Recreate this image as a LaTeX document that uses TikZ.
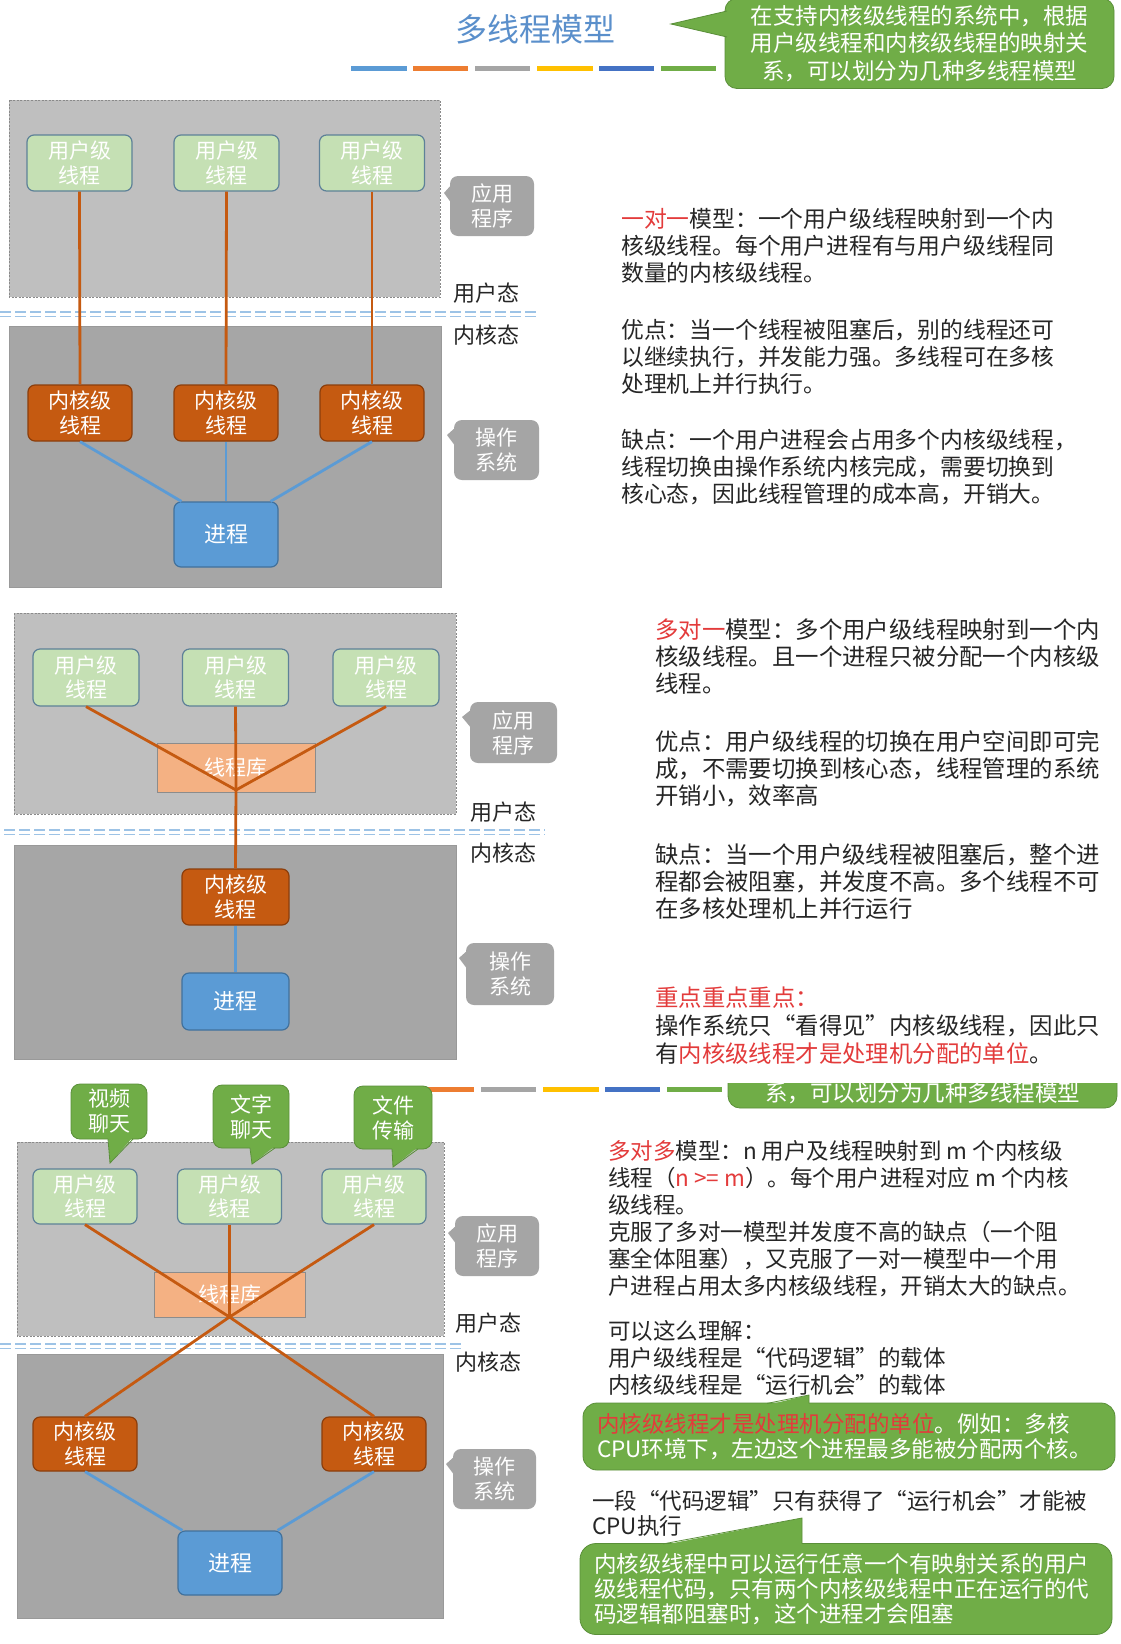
\documentclass[tikz,border=0pt]{standalone}
\usepackage{fontspec}
\setmainfont{Noto Sans CJK SC}
\usetikzlibrary{calc}
\definecolor{ugray}{HTML}{BFBFBF}
\definecolor{kgray}{HTML}{A6A6A6}
\definecolor{rgedge}{HTML}{8A8A8A}
\definecolor{kgedge}{HTML}{999999}
\definecolor{cgray}{HTML}{A5A5A5}
\definecolor{ufill}{HTML}{C5E0B4}
\definecolor{uedge}{HTML}{5E8198}
\definecolor{korange}{HTML}{C55A11}
\definecolor{kedge}{HTML}{8B3E0C}
\definecolor{pblue}{HTML}{5B9BD5}
\definecolor{pedge}{HTML}{41719C}
\definecolor{libfill}{HTML}{F4B183}
\definecolor{libedge}{HTML}{8C8C8C}
\definecolor{gfill}{HTML}{70AD47}
\definecolor{gedge}{HTML}{5A8F39}
\definecolor{sepblue}{HTML}{9DC3E6}
\definecolor{titleblue}{HTML}{5A8FCB}
\definecolor{redtxt}{HTML}{E33B3B}
\definecolor{bodytxt}{HTML}{262626}
\definecolor{barA}{HTML}{5B9BD5}
\definecolor{barB}{HTML}{ED7D31}
\definecolor{barC}{HTML}{A5A5A5}
\definecolor{barD}{HTML}{FFC000}
\definecolor{barE}{HTML}{4472C4}
\definecolor{barF}{HTML}{70AD47}
\newcommand\fa{\fontsize{22.8}{27}\selectfont}
\newcommand\fb{\fontsize{23.4}{27}\selectfont}
\newcommand\fbb{\fontsize{23.4}{27.7}\selectfont}
\newcommand\fc{\fontsize{22.5}{27}\selectfont}
\newcommand\fd{\fontsize{22.5}{25}\selectfont}
\newcommand\rt[1]{{\color{redtxt}#1}}
\begin{document}
\begin{tikzpicture}[x=1pt,y=-1pt,
  uregion/.style={fill=ugray,draw=rgedge,dash pattern=on 2pt off 1.5pt,line width=0.8pt},
  kregion/.style={fill=kgray,draw=kgedge,line width=0.8pt},
  thr/.style={rounded corners=7pt,line width=1.2pt,text=white,align=center,inner sep=0pt,font=\fontsize{21}{24.5}\selectfont},
  uthr/.style={thr,fill=ufill,draw=uedge},
  kthr/.style={thr,fill=korange,draw=kedge},
  proc/.style={thr,fill=pblue,draw=pedge,font=\fontsize{22}{26}\selectfont},
  lib/.style={fill=libfill,draw=libedge,line width=0.8pt,text=white,inner sep=0pt,font=\fontsize{21}{25}\selectfont},
  oline/.style={draw=korange,line width=2.8pt},
  bline/.style={draw=pblue,line width=2.8pt},
  sepl/.style={draw=sepblue,line width=1.8pt,dash pattern=on 11pt off 4pt},
  modelabel/.style={text=bodytxt,inner sep=0pt,font=\fontsize{22}{26}\selectfont},
  gcall/.style={fill=cgray,rounded corners=8pt,text=white,align=center,inner sep=0pt,font=\fontsize{21}{25}\selectfont},
  grcall/.style={fill=gfill,draw=gedge,line width=0.8pt,rounded corners=9pt,text=white,align=center,inner sep=0pt,font=\fontsize{21}{25}\selectfont},
  para/.style={anchor=north west,inner sep=0pt,align=left,text=bodytxt},
]
\useasboundingbox (0,0) rectangle (1120,1644);
\fill[white] (0,0) rectangle (1120,1644);

% ---------------- title area ----------------
\node[text=titleblue,inner sep=0pt,font=\fontsize{32}{36}\selectfont] (title) at (535,29) {多线程模型};
\fill[barA] (351,66) rectangle (407,71);
\fill[barB] (413,66) rectangle (468,71);
\fill[barC] (475,66) rectangle (530,71);
\fill[barD] (537,66) rectangle (593,71);
\fill[barE] (599,66) rectangle (654,71);
\fill[barF] (661,66) rectangle (716,71);
\node[grcall,rounded corners=12pt,minimum width=389pt,minimum height=90pt,font=\fontsize{22.5}{27.5}\selectfont] (tcall) at (919.5,43.5) {在支持内核级线程的系统中，根据\\用户级线程和内核级线程的映射关\\系，可以划分为几种多线程模型};
\fill[gfill] (671,24) -- (727,11) -- (727,37) -- cycle;
\draw[gedge,line width=0.8pt] (727,11) -- (671,24) -- (727,37);

% ---------------- panel 1 ----------------
\draw[uregion] (9,100) rectangle (440,297);
\draw[kregion] (9,326) rectangle (441,587);
\draw[sepl] (0,312) -- (537,312);
\draw[sepl] (0,316.5) -- (537,316.5);
\node[uthr,minimum width=105pt,minimum height=56pt] (au1) at (79.5,163) {用户级\\线程};
\node[uthr,minimum width=105pt,minimum height=56pt] (au2) at (226.5,163) {用户级\\线程};
\node[uthr,minimum width=105pt,minimum height=56pt] (au3) at (372,163) {用户级\\线程};
\node[kthr,minimum width=104pt,minimum height=56pt] (ak1) at (80,413) {内核级\\线程};
\node[kthr,minimum width=104pt,minimum height=56pt] (ak2) at (226,413) {内核级\\线程};
\node[kthr,minimum width=104pt,minimum height=56pt] (ak3) at (372,413) {内核级\\线程};
\node[proc,minimum width=104pt,minimum height=65pt] (ap) at (226,534.5) {进程};
\draw[oline] (au1.south) -- (ak1.north);
\draw[oline] (au2.south) -- (ak2.north);
\draw[oline] (au3.south) -- (ak3.north);
\draw[bline] (ak1.south) -- ([xshift=8pt]ap.north west);
\draw[bline] (ak2.south) -- (ap.north);
\draw[bline] (ak3.south) -- ([xshift=-8pt]ap.north east);
\node[modelabel] (aus) at (486,293) {用户态};
\node[modelabel] (aks) at (486,335) {内核态};
\node[gcall,minimum width=84pt,minimum height=60pt] (aapp) at (492,206) {应用\\程序};
\fill[cgray] (444,193) -- (452,184) -- (452,204) -- cycle;
\node[gcall,minimum width=85pt,minimum height=60pt] (aos) at (496.5,450) {操作\\系统};
\fill[cgray] (447,435) -- (456,427) -- (456,447) -- cycle;

\node[para,font=\fa] (t11) at (621,208.2) {\rt{一对一}模型：一个用户级线程映射到一个内\\核级线程。每个用户进程有与用户级线程同\\数量的内核级线程。};
\node[para,font=\fa] (t12) at (621,318.7) {优点：当一个线程被阻塞后，别的线程还可\\以继续执行，并发能力强。多线程可在多核\\处理机上并行执行。};
\node[para,font=\fa] (t13) at (621,428.7) {缺点：一个用户进程会占用多个内核级线程，\\线程切换由操作系统内核完成，需要切换到\\核心态，因此线程管理的成本高，开销大。};

% ---------------- panel 2 ----------------
\draw[uregion] (14,613) rectangle (456,814);
\draw[kregion] (14,845) rectangle (456,1059);
\draw[sepl] (4,830) -- (545,830);
\draw[sepl] (4,834.5) -- (545,834.5);
\node[uthr,minimum width=106pt,minimum height=57pt] (bu1) at (86,677.5) {用户级\\线程};
\node[uthr,minimum width=106pt,minimum height=57pt] (bu2) at (235.5,677.5) {用户级\\线程};
\node[uthr,minimum width=106pt,minimum height=57pt] (bu3) at (386,677.5) {用户级\\线程};
\node[lib,minimum width=158pt,minimum height=49pt] (blib) at (236,767.5) {线程库};
\node[kthr,minimum width=107pt,minimum height=56pt] (bk) at (235.5,897) {内核级\\线程};
\node[proc,minimum width=107pt,minimum height=57pt] (bp) at (235.5,1001.5) {进程};
\coordinate (bj) at (236,790);
\draw[oline] (bu1.south) -- (bj);
\draw[oline] (bu2.south) -- (bj);
\draw[oline] (bu3.south) -- (bj);
\draw[oline] (bj) -- (bk.north);
\draw[bline] (bk.south) -- (bp.north);
\node[modelabel] (bus) at (503,812) {用户态};
\node[modelabel] (bks) at (503,853) {内核态};
\node[gcall,minimum width=87pt,minimum height=61pt] (bapp) at (513.5,732.5) {应用\\程序};
\fill[cgray] (462,717) -- (472,709) -- (472,729) -- cycle;
\node[gcall,minimum width=88pt,minimum height=62pt] (bos) at (510,974) {操作\\系统};
\fill[cgray] (459,958) -- (468,950) -- (468,970) -- cycle;

\node[para,font=\fb] (t21) at (655,618.5) {\rt{多对一}模型：多个用户级线程映射到一个内\\核级线程。且一个进程只被分配一个内核级\\线程。};
\node[para,font=\fb] (t22) at (655,730) {优点：用户级线程的切换在用户空间即可完\\成，不需要切换到核心态，线程管理的系统\\开销小，效率高};
\node[para,font=\fb] (t23) at (655,843) {缺点：当一个用户级线程被阻塞后，整个进\\程都会被阻塞，并发度不高。多个线程不可\\在多核处理机上并行运行};
\node[para,font=\fbb] (t24) at (655,987) {\rt{重点重点重点：}\\操作系统只“看得见”内核级线程，因此只\\有\rt{内核级线程才是处理机分配的单位}。};

% ---------------- panel 3 ----------------
\begin{scope}
\clip (0,1083) rectangle (1120,1200);
\fill[barA] (357,1087) rectangle (413,1092);
\fill[barB] (419,1087) rectangle (474,1092);
\fill[barC] (481,1087) rectangle (536,1092);
\fill[barD] (543,1087) rectangle (599,1092);
\fill[barE] (605,1087) rectangle (660,1092);
\fill[barF] (667,1087) rectangle (722,1092);
\filldraw[fill=gfill,draw=gedge,line width=0.8pt,rounded corners=12pt] (728,1018) rectangle (1117,1108);
\node[text=white,inner sep=0pt,font=\fontsize{22.5}{27.5}\selectfont] (tcallb) at (922.5,1093) {系，可以划分为几种多线程模型};
\end{scope}

\draw[uregion] (17,1142) rectangle (444,1336);
\draw[kregion] (17,1354) rectangle (443,1618);
\draw[sepl] (0,1344) -- (464,1344);
\draw[sepl] (0,1348.5) -- (464,1348.5);
\node[uthr,minimum width=104pt,minimum height=55pt] (cu1) at (85,1196.5) {用户级\\线程};
\node[uthr,minimum width=104pt,minimum height=55pt] (cu2) at (229.5,1196.5) {用户级\\线程};
\node[uthr,minimum width=104pt,minimum height=55pt] (cu3) at (374,1196.5) {用户级\\线程};
\node[lib,minimum width=151pt,minimum height=45pt] (clib) at (229.5,1294.5) {线程库};
\node[kthr,minimum width=104pt,minimum height=54pt] (ck1) at (85,1444) {内核级\\线程};
\node[kthr,minimum width=104pt,minimum height=54pt] (ck2) at (374,1444) {内核级\\线程};
\node[proc,minimum width=104pt,minimum height=64pt] (cp) at (230,1563) {进程};
\coordinate (cj) at (229.5,1317);
\draw[oline] (cu1.south) -- (cj);
\draw[oline] (cu2.south) -- (cj);
\draw[oline] (cu3.south) -- (cj);
\draw[oline] (cj) -- (ck1.north);
\draw[oline] (cj) -- (ck2.north);
\draw[bline] (ck1.south) -- ([xshift=5pt]cp.north west);
\draw[bline] (ck2.south) -- ([xshift=-5pt]cp.north east);
\node[modelabel] (cus) at (488,1323) {用户态};
\node[modelabel] (cks) at (488,1362) {内核态};
\node[gcall,minimum width=84pt,minimum height=60pt] (capp) at (497,1246) {应用\\程序};
\fill[cgray] (448,1233) -- (457,1225) -- (457,1245) -- cycle;
\node[gcall,minimum width=83pt,minimum height=60pt] (cos) at (494.5,1479) {操作\\系统};
\fill[cgray] (446,1464) -- (455,1456) -- (455,1476) -- cycle;

\node[grcall,minimum width=76pt,minimum height=55pt] (cv) at (109,1111.5) {视频\\聊天};
\fill[gfill] (108,1137) -- (133,1137) -- (110,1163) -- cycle;
\draw[gedge,line width=0.8pt] (133,1139) -- (110,1163) -- (108,1139);
\node[grcall,minimum width=76pt,minimum height=63pt] (ct) at (251,1116.5) {文字\\聊天};
\fill[gfill] (250,1146) -- (275,1146) -- (252,1164) -- cycle;
\draw[gedge,line width=0.8pt] (275,1148) -- (252,1164) -- (250,1148);
\node[grcall,minimum width=78pt,minimum height=63pt] (cf) at (393,1117.5) {文件\\传输};
\fill[gfill] (392,1147) -- (418,1147) -- (393,1167) -- cycle;
\draw[gedge,line width=0.8pt] (418,1149) -- (393,1167) -- (392,1149);

\node[para,font=\fc] (t31) at (608,1139.9) {\rt{多对多}模型：n 用户及线程映射到 m 个内核级\\线程（\rt{n >= m}）。每个用户进程对应 m 个内核\\级线程。\\克服了多对一模型并发度不高的缺点（一个阻\\塞全体阻塞），又克服了一对一模型中一个用\\户进程占用太多内核级线程，开销太大的缺点。};
\node[para,font=\fc] (t32) at (608,1319.9) {可以这么理解：\\用户级线程是“代码逻辑”的载体\\内核级线程是“运行机会”的载体};

\node[grcall,rounded corners=14pt,minimum width=532pt,minimum height=67pt,align=left,text width=504pt,inner xsep=14pt,font=\fd] (cc1) at (849,1436.5) {\rt{内核级线程才是处理机分配的单位}。例如：多核\\CPU环境下，左边这个进程最多能被分配两个核。};
\fill[gfill] (767,1405) -- (809,1395) -- (809,1405) -- cycle;
\draw[gedge,line width=0.8pt] (767,1403.4) -- (809,1395) -- (809,1403.4);

\node[para,font=\fd] (t33) at (592,1489.9) {一段“代码逻辑”只有获得了“运行机会”才能被\\CPU执行};

\node[grcall,rounded corners=16pt,minimum width=532pt,minimum height=91pt,align=left,text width=504pt,inner xsep=14pt,font=\fd] (cc2) at (846,1589) {内核级线程中可以运行任意一个有映射关系的用户\\级线程代码，只有两个内核级线程中正在运行的代\\码逻辑都阻塞时，这个进程才会阻塞};
\fill[gfill] (663,1545) -- (802,1518) -- (802,1545) -- cycle;
\draw[gedge,line width=0.8pt] (663,1543.9) -- (802,1518) -- (802,1543.9);
\end{tikzpicture}
\end{document}
